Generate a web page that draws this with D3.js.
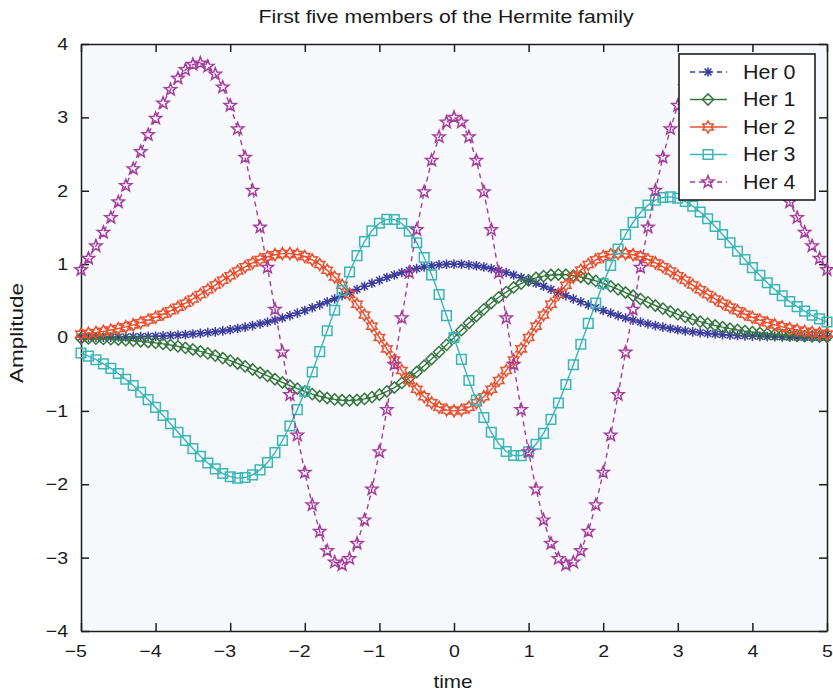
<!DOCTYPE html>
<html><head><meta charset="utf-8">
<script src="https://cdn.jsdelivr.net/npm/d3@7"></script>
<style>body{margin:0;background:#fff}text{font-family:"Liberation Sans",Arial,sans-serif;fill:#1a1a1a}</style>
</head><body>
<svg id="c" width="833" height="694"></svg>
<script>
const time = [-5.0,-4.9,-4.8,-4.7,-4.6,-4.5,-4.4,-4.3,-4.2,-4.1,-4.0,-3.9,-3.8,-3.7,-3.6,-3.5,-3.4,-3.3,-3.2,-3.1,
-3.0,-2.9,-2.8,-2.7,-2.6,-2.5,-2.4,-2.3,-2.2,-2.1,-2.0,-1.9,-1.8,-1.7,-1.6,-1.5,-1.4,-1.3,-1.2,-1.1,
-1.0,-0.9,-0.8,-0.7,-0.6,-0.5,-0.4,-0.3,-0.2,-0.1,0.0,
0.1,0.2,0.3,0.4,0.5,0.6,0.7,0.8,0.9,1.0,1.1,1.2,1.3,1.4,1.5,1.6,1.7,1.8,1.9,2.0,
2.1,2.2,2.3,2.4,2.5,2.6,2.7,2.8,2.9,3.0,3.1,3.2,3.3,3.4,3.5,3.6,3.7,3.8,3.9,4.0,
4.1,4.2,4.3,4.4,4.5,4.6,4.7,4.8,4.9,5.0];

const her0 = [0.002,0.002,0.003,0.004,0.005,0.006,0.008,0.010,0.012,0.015,
0.018,0.022,0.027,0.033,0.039,0.047,0.056,0.066,0.077,0.090,
0.105,0.122,0.141,0.162,0.185,0.210,0.237,0.266,0.298,0.332,
0.368,0.406,0.445,0.486,0.527,0.570,0.613,0.655,0.698,0.739,
0.779,0.817,0.852,0.885,0.914,0.939,0.961,0.978,0.990,0.998,
1.000,
0.998,0.990,0.978,0.961,0.939,0.914,0.885,0.852,0.817,0.779,
0.739,0.698,0.655,0.613,0.570,0.527,0.486,0.445,0.406,0.368,
0.332,0.298,0.266,0.237,0.210,0.185,0.162,0.141,0.122,0.105,
0.090,0.077,0.066,0.056,0.047,0.039,0.033,0.027,0.022,0.018,
0.015,0.012,0.010,0.008,0.006,0.005,0.004,0.003,0.002,0.002];

const her1 = [-0.010,-0.012,-0.015,-0.019,-0.023,-0.028,-0.035,-0.042,-0.051,-0.061,
-0.073,-0.087,-0.103,-0.121,-0.141,-0.164,-0.189,-0.217,-0.247,-0.281,
-0.316,-0.354,-0.394,-0.436,-0.480,-0.524,-0.569,-0.613,-0.656,-0.697,
-0.736,-0.771,-0.801,-0.825,-0.844,-0.855,-0.858,-0.852,-0.837,-0.813,
-0.779,-0.735,-0.682,-0.619,-0.548,-0.470,-0.384,-0.293,-0.198,-0.100,
0.000,
0.100,0.198,0.293,0.384,0.470,0.548,0.619,0.682,0.735,0.779,
0.813,0.837,0.852,0.858,0.855,0.844,0.825,0.801,0.771,0.736,
0.697,0.656,0.613,0.569,0.524,0.480,0.436,0.394,0.354,0.316,
0.281,0.247,0.217,0.189,0.164,0.141,0.121,0.103,0.087,0.073,
0.061,0.051,0.042,0.035,0.028,0.023,0.019,0.015,0.012,0.010];

const her2 = [0.046,0.057,0.069,0.084,0.102,0.122,0.145,0.172,0.202,0.237,
0.275,0.317,0.364,0.414,0.468,0.526,0.587,0.650,0.714,0.779,
0.843,0.905,0.963,1.017,1.063,1.100,1.128,1.143,1.145,1.132,
1.104,1.058,0.996,0.918,0.823,0.712,0.588,0.452,0.307,0.155,
0.000,-0.155,-0.307,-0.451,-0.585,-0.705,-0.807,-0.890,-0.950,-0.988,
-1.000,
-0.988,-0.950,-0.890,-0.807,-0.705,-0.585,-0.451,-0.307,-0.155,0.000,
0.155,0.307,0.452,0.588,0.712,0.823,0.918,0.996,1.058,1.104,
1.132,1.145,1.143,1.128,1.100,1.063,1.017,0.963,0.905,0.843,
0.779,0.714,0.650,0.587,0.526,0.468,0.414,0.364,0.317,0.275,
0.237,0.202,0.172,0.145,0.122,0.102,0.084,0.069,0.057,0.046];

const her3 = [-0.212,-0.254,-0.303,-0.359,-0.421,-0.491,-0.569,-0.655,-0.747,-0.847,
-0.952,-1.063,-1.176,-1.291,-1.404,-1.514,-1.618,-1.711,-1.791,-1.854,
-1.897,-1.916,-1.909,-1.872,-1.804,-1.703,-1.569,-1.404,-1.207,-0.983,
-0.736,-0.470,-0.192,0.091,0.371,0.641,0.892,1.116,1.306,1.455,
1.558,1.610,1.609,1.554,1.448,1.292,1.091,0.854,0.586,0.298,
0.000,
-0.298,-0.586,-0.854,-1.091,-1.292,-1.448,-1.554,-1.609,-1.610,-1.558,
-1.455,-1.306,-1.116,-0.892,-0.641,-0.371,-0.091,0.192,0.470,0.736,
0.983,1.207,1.404,1.569,1.703,1.804,1.872,1.909,1.916,1.897,
1.854,1.791,1.711,1.618,1.514,1.404,1.291,1.176,1.063,0.952,
0.847,0.747,0.655,0.569,0.491,0.421,0.359,0.303,0.254,0.212];

const her4 = [0.923,1.077,1.247,1.432,1.633,1.846,2.069,2.299,2.532,2.763,
2.986,3.193,3.378,3.533,3.650,3.721,3.739,3.696,3.588,3.411,
3.162,2.842,2.455,2.005,1.502,0.956,0.383,-0.201,-0.780,-1.332,
-1.839,-2.282,-2.644,-2.907,-3.062,-3.098,-3.013,-2.808,-2.488,-2.066,
-1.558,-0.983,-0.367,0.266,0.886,1.468,1.985,2.413,2.734,2.933,
3.000,
2.933,2.734,2.413,1.985,1.468,0.886,0.266,-0.367,-0.983,-1.558,
-2.066,-2.488,-2.808,-3.013,-3.098,-3.062,-2.907,-2.644,-2.282,-1.839,
-1.332,-0.780,-0.201,0.383,0.956,1.502,2.005,2.455,2.842,3.162,
3.411,3.588,3.696,3.739,3.721,3.650,3.533,3.378,3.193,2.986,
2.763,2.532,2.299,2.069,1.846,1.633,1.432,1.247,1.077,0.923];

const seriesNames = ["Her 0","Her 1","Her 2","Her 3","Her 4"];
const xTicks = [-5,-4,-3,-2,-1,0,1,2,3,4,5];
const yTicks = [-4,-3,-2,-1,0,1,2,3,4];
const titleText = "First five members of the Hermite family";
const xLabel = "time";
const yLabel = "Amplitude";

// ---- styles ----
const colors = ["#3b3d9e","#37773f","#e8502e","#3ab6b6","#a63c9c"];
const dashes = ["5,4",null,null,null,"5,4"];
const markerKinds = ["asterisk","diamond","hexagram","square","pentagram"];

function markerPath(kind){
  const star=(n,ro,ri)=>{let p=[];for(let i=0;i<2*n;i++){const a=-Math.PI/2+i*Math.PI/n;const r=i%2?ri:ro;p.push([r*Math.cos(a),r*Math.sin(a)]);}return "M"+p.map(q=>q[0].toFixed(2)+","+q[1].toFixed(2)).join("L")+"Z";};
  switch(kind){
    case "asterisk":{const r=4.8,k=3.4;return `M${-r},0L${r},0M0,${-r}L0,${r}M${-k},${-k}L${k},${k}M${-k},${k}L${k},${-k}`;}
    case "diamond":{const r=5.6;return `M0,${-r}L${r},0L0,${r}L${-r},0Z`;}
    case "square":{const r=4.8;return `M${-r},${-r}H${r}V${r}H${-r}Z`;}
    case "hexagram":return star(6,6.0,3.45);
    case "pentagram":return star(5,6.4,2.7);
  }
}

const W=833,H=694,m={l:81,r:6,t:44,b:63};
const svg=d3.select("#c");
const x=d3.scaleLinear().domain([-5,5]).range([m.l,W-m.r]);
const y=d3.scaleLinear().domain([-4,4]).range([H-m.b,m.t]);

svg.append("rect").attr("x",0).attr("y",0).attr("width",W).attr("height",H).attr("fill","#fff");
svg.append("rect").attr("x",x(-5)).attr("y",y(4)).attr("width",x(5)-x(-5)).attr("height",y(-4)-y(4)).attr("fill","#f8f9fc");

const fmt=d=> d<0 ? "\u2212"+Math.abs(d) : String(d);
const tickLen=8, fs=17, sx=1.15;
function styleAxis(g,showLabels){
  g.select(".domain").attr("stroke","#1e1e1e").attr("stroke-width",1.5);
  g.selectAll(".tick line").attr("stroke","#1e1e1e").attr("stroke-width",1.5);
  g.selectAll(".tick text").attr("font-size",fs).attr("font-family","Liberation Sans, Arial, sans-serif").attr("fill","#1a1a1a");
  if(!showLabels) g.selectAll(".tick text").remove();
}
const gxB=svg.append("g").attr("transform",`translate(0,${y(-4)})`)
  .call(d3.axisBottom(x).tickValues(xTicks).tickFormat(fmt).tickSizeInner(-tickLen).tickSizeOuter(0).tickPadding(14));
styleAxis(gxB,true);
gxB.selectAll(".tick text").attr("dx",d=>d<0?-5:0).attr("transform",`scale(${sx},1)`);
const gxT=svg.append("g").attr("transform",`translate(0,${y(4)})`)
  .call(d3.axisTop(x).tickValues(xTicks).tickSizeInner(-tickLen).tickSizeOuter(0));
styleAxis(gxT,false);
const gyL=svg.append("g").attr("transform",`translate(${x(-5)},0)`)
  .call(d3.axisLeft(y).tickValues(yTicks).tickFormat(fmt).tickSizeInner(-tickLen).tickSizeOuter(0).tickPadding(13));
styleAxis(gyL,true);
gyL.selectAll(".tick text").attr("x",-13/sx).attr("transform",`scale(${sx},1)`);
const gyR=svg.append("g").attr("transform",`translate(${x(5)},0)`)
  .call(d3.axisRight(y).tickValues(yTicks).tickSizeInner(-tickLen).tickSizeOuter(0));
styleAxis(gyR,false);

const series=[her0,her1,her2,her3,her4];
const line=d3.line().x((d,i)=>x(time[i])).y(d=>y(d));
const plot=svg.append("g");
series.forEach((s,k)=>{
  const g=plot.append("g");
  g.append("path").datum(s).attr("d",line).attr("fill","none").attr("stroke",colors[k]).attr("stroke-width",1.4)
    .attr("stroke-dasharray",dashes[k]);
  const mp=markerPath(markerKinds[k]);
  g.selectAll("path.mk").data(s).join("path").attr("class","mk")
    .attr("transform",(d,i)=>`translate(${x(time[i])},${y(d)})`)
    .attr("d",mp).attr("fill","none").attr("stroke",colors[k]).attr("stroke-width",1.5);
});

// title & labels
svg.append("text").attr("transform","translate(446,23) scale(1.18,1)").attr("text-anchor","middle").attr("font-size",18).text(titleText);
svg.append("text").attr("transform","translate(453,688) scale(1.15,1)").attr("text-anchor","middle").attr("font-size",18).text(xLabel);
svg.append("text").attr("transform",`translate(23,333) rotate(-90) scale(1.25,1)`).attr("text-anchor","middle").attr("font-size",18).text(yLabel);

// legend
const lg=svg.append("g");
const lx0=679, ly0=54, lw=136, lh=146;
lg.append("rect").attr("x",lx0).attr("y",ly0).attr("width",lw).attr("height",lh).attr("fill","#fff").attr("stroke","#1e1e1e").attr("stroke-width",1.6);
const rowY=d3.scaleLinear().domain([0,4]).range([72,182]);
seriesNames.forEach((nm,k)=>{
  const yy=rowY(k);
  lg.append("line").attr("x1",690).attr("x2",727).attr("y1",yy).attr("y2",yy).attr("stroke",colors[k]).attr("stroke-width",1.4).attr("stroke-dasharray",dashes[k]);
  lg.append("path").attr("transform",`translate(708,${yy})`).attr("d",markerPath(markerKinds[k])).attr("fill","none").attr("stroke",colors[k]).attr("stroke-width",1.5);
  lg.append("text").attr("transform",`translate(743,${yy}) scale(1.1,1)`).attr("dy","0.35em").attr("font-size",19.5).text(nm);
});
</script>
</body></html>
